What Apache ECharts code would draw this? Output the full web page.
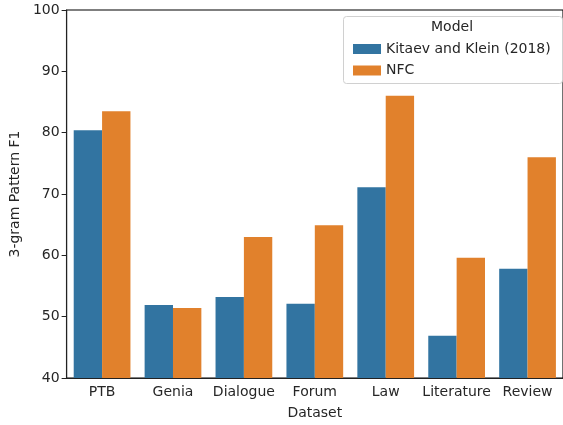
<!DOCTYPE html>
<html>
<head>
<meta charset="utf-8">
<script src="https://cdn.jsdelivr.net/npm/echarts@6/dist/echarts.min.js"></script>
<style>html,body{margin:0;padding:0;background:#fff}#c{width:563px;height:425px}</style>
</head>
<body>
<div id="c"></div>
<script>
const categories = ["PTB", "Genia", "Dialogue", "Forum", "Law", "Literature", "Review"];
const kitaev = [80.4, 51.9, 53.2, 52.1, 71.1, 46.9, 57.8];
const nfc = [83.5, 51.4, 63.0, 64.9, 86.0, 59.6, 76.0];
const yTicks = [40, 50, 60, 70, 80, 90, 100];

const FONT = "DejaVu Sans";
const TXT = '#262626';
const FS = 14;
const chart = echarts.init(document.getElementById('c'));
chart.setOption({
  animation: false,
  backgroundColor: '#fff',
  textStyle: { fontFamily: FONT },
  grid: { left: 66, top: 10, width: 500, height: 370, show: true, borderColor: '#000', borderWidth: 1.1, backgroundColor: 'transparent' },
  legend: {
    left: 348, top: 37, orient: 'vertical', itemWidth: 28, itemHeight: 10, itemGap: 7.5,
    textStyle: { fontFamily: FONT, fontSize: FS, color: TXT },
    icon: 'rect',
    data: ['Kitaev and Klein (2018)', 'NFC']
  },
  graphic: [
    { type: 'rect', left: 343, top: 16, shape: { width: 219, height: 67, r: 3 }, style: { fill: 'rgba(255,255,255,0.8)', stroke: '#d0d0d0', lineWidth: 1 }, z: 0 },
    { type: 'text', z: 1, style: { text: 'Model', font: FS + 'px "DejaVu Sans"', fill: TXT, x: 452, y: 20, textAlign: 'center' } }
  ],
  xAxis: {
    type: 'category', data: categories, name: 'Dataset', nameLocation: 'middle', nameGap: 28,
    nameTextStyle: { fontFamily: FONT, fontSize: FS, color: TXT },
    axisLine: { lineStyle: { color: '#222', width: 1.1 } },
    axisTick: { alignWithLabel: true, length: 5, lineStyle: { color: '#222' } },
    axisLabel: { interval: 0, fontFamily: FONT, fontSize: FS, color: TXT, margin: 7 }
  },
  yAxis: {
    type: 'value', min: 40, max: 100, interval: 10, name: '3-gram Pattern F1', nameLocation: 'middle', nameGap: 39,
    nameTextStyle: { fontFamily: FONT, fontSize: FS, color: TXT },
    axisLine: { show: true, lineStyle: { color: '#222', width: 1.1 } },
    axisTick: { show: true, length: 5, lineStyle: { color: '#222' } },
    axisLabel: { fontFamily: FONT, fontSize: FS, color: TXT, margin: 7, formatter: v => yTicks.includes(v) ? String(v) : '' },
    splitLine: { show: false }
  },
  series: [
    { name: 'Kitaev and Klein (2018)', type: 'bar', data: kitaev, barGap: '0%', barCategoryGap: '20%',
      itemStyle: { color: '#3274a1' } },
    { name: 'NFC', type: 'bar', data: nfc,
      itemStyle: { color: '#e1812c' } }
  ]
});
</script>
</body>
</html>
